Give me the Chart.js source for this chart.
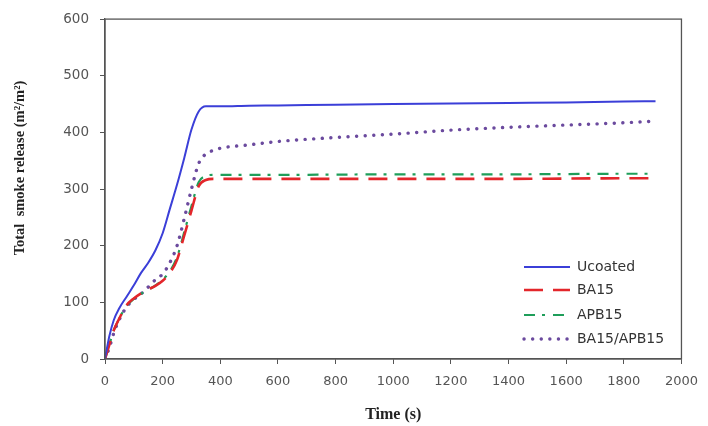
<!DOCTYPE html>
<html>
<head>
<meta charset="utf-8">
<script src="https://cdn.jsdelivr.net/npm/chart.js@4"></script>
<style>
  html, body { margin: 0; padding: 0; background: #fff; }
  #wrap { width: 708px; height: 426px; }
</style>
</head>
<body>
<div id="wrap"><canvas id="chart"></canvas></div>
<script>
// time points (s) shared by all curves
const times = [0, 15, 30, 50, 75, 100, 125, 150, 175, 200, 225, 250, 275, 300, 325, 350, 375, 400, 500, 600, 800, 1000, 1200, 1400, 1600, 1800, 1910];

// total smoke release (m2/m2)
const uncoated = [0, 40, 68, 90, 110, 130, 152, 170, 192, 222, 265, 308, 355, 405, 437, 446, 446, 446, 447, 447.5, 449, 450, 451, 452, 453, 454.5, 455];
const ba15 = [0, 25, 50, 72, 95, 107, 116, 123, 129, 138, 152, 175, 218, 262, 305, 316, 318, 318, 318, 318, 318, 318, 318, 318, 318.5, 319, 319];
const apb15 = [0, 25, 50, 72, 94, 106, 115, 122, 130, 140, 155, 180, 224, 270, 312, 323, 325, 325, 325, 325, 325.5, 326, 326, 326, 326.5, 327, 327];
const ba15apb15 = [0, 20, 45, 70, 92, 105, 115, 127, 140, 150, 170, 200, 248, 300, 345, 362, 368, 372, 378, 384, 391, 397, 404, 409, 413, 417, 420];

const seriesNames = ["Ucoated", "BA15", "APB15", "BA15/APB15"];
const xTicks = [0, 200, 400, 600, 800, 1000, 1200, 1400, 1600, 1800, 2000];
const yTicks = [0, 100, 200, 300, 400, 500, 600];

const toPoints = (vals) => vals.map((v, i) => ({ x: times[i], y: v }));

const styles = [
  { color: "#3b3fd8", dash: [], width: 2, cap: "butt" },
  { color: "#e3262b", dash: [19, 10], width: 2.6, cap: "butt" },
  { color: "#1f9e5a", dash: [11, 7, 3, 8], width: 2.2, cap: "butt" },
  { color: "#6b4a9e", dash: [0.1, 8.5], width: 3.4, cap: "round" },
];

const allSeries = [uncoated, ba15, apb15, ba15apb15];

// box around the plot area + y axis title (sits a bit above centre in the original)
const frame = {
  id: "frame",
  afterDraw(chart) {
    const { ctx, chartArea: a } = chart;
    ctx.save();
    ctx.strokeStyle = "#555";
    ctx.lineWidth = 1.3;
    ctx.strokeRect(a.left, a.top, a.right - a.left, a.bottom - a.top);

    ctx.translate(20, 168);
    ctx.rotate(-Math.PI / 2);
    ctx.fillStyle = "#222";
    ctx.font = "bold 14.5px 'Liberation Serif'";
    ctx.textAlign = "center";
    ctx.textBaseline = "middle";
    ctx.fillText("Total  smoke release (m\u00b2/m\u00b2)", 0, 0);
    ctx.restore();
  },
};

// legend with line samples, bottom right inside the plot
const lineLegend = {
  id: "lineLegend",
  afterDraw(chart) {
    const ctx = chart.ctx;
    const x0 = 524, x1 = 570, tx = 577;
    const ys = [267, 290, 315, 339];
    ctx.save();
    chart.data.datasets.forEach((ds, i) => {
      ctx.beginPath();
      ctx.strokeStyle = ds.borderColor;
      ctx.lineWidth = ds.borderWidth;
      ctx.setLineDash(ds.borderDash);
      ctx.lineCap = ds.borderCapStyle;
      ctx.moveTo(x0, ys[i]);
      ctx.lineTo(x1, ys[i]);
      ctx.stroke();
      ctx.setLineDash([]);
      ctx.fillStyle = "#333";
      ctx.font = "14px 'DejaVu Sans'";
      ctx.textBaseline = "middle";
      ctx.fillText(ds.label, tx, ys[i] + 0.5);
    });
    ctx.restore();
  },
};

new Chart(document.getElementById("chart"), {
  type: "line",
  data: {
    datasets: allSeries.map((vals, i) => ({
      label: seriesNames[i],
      data: toPoints(vals),
      borderColor: styles[i].color,
      borderWidth: styles[i].width,
      borderDash: styles[i].dash,
      borderCapStyle: styles[i].cap,
      pointRadius: 0,
      fill: false,
      cubicInterpolationMode: "monotone",
    })),
  },
  options: {
    responsive: true,
    maintainAspectRatio: false,
    animation: false,
    layout: { padding: { top: 18, right: 24, left: 0, bottom: 0 } },
    scales: {
      x: {
        type: "linear",
        min: 0,
        max: 2000,
        afterBuildTicks: (s) => { s.ticks = xTicks.map((v) => ({ value: v })); },
        afterFit: (s) => { s.height = 67; },
        grid: { drawOnChartArea: false, drawTicks: true, tickLength: 5, color: "#555" },
        border: { color: "#555", width: 1.3 },
        ticks: {
          color: "#555",
          padding: 10,
          font: { family: "'DejaVu Sans'", size: 13 },
          callback: (v) => String(v),
        },
        title: {
          display: true,
          text: "Time (s)",
          color: "#222",
          padding: { top: 4, bottom: 2 },
          font: { family: "'Liberation Serif'", size: 16, weight: "bold" },
        },
      },
      y: {
        min: 0,
        max: 600,
        afterBuildTicks: (s) => { s.ticks = yTicks.map((v) => ({ value: v })); },
        afterFit: (s) => { s.width = 105; },
        grid: { drawOnChartArea: false, drawTicks: true, tickLength: 5, color: "#555" },
        border: { color: "#555", width: 1.3 },
        ticks: { color: "#555", padding: 11, font: { family: "'DejaVu Sans'", size: 13.5 } },
      },
    },
    plugins: {
      legend: { display: false },
      tooltip: { enabled: false },
    },
  },
  plugins: [frame, lineLegend],
});
</script>
</body>
</html>
